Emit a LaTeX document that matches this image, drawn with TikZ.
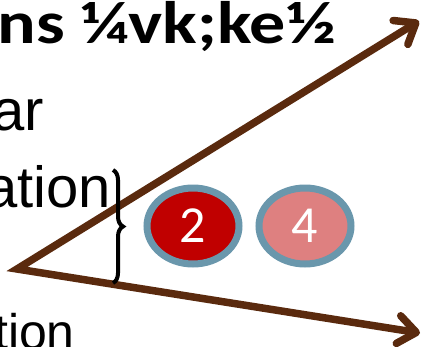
\documentclass[tikz,border=0pt]{standalone}
\usepackage{fontspec}
\setmainfont{Liberation Sans}
\newfontfamily\calibri{Carlito}
\newfontfamily\widebold[FakeStretch=1.2]{Carlito Bold}
\usetikzlibrary{arrows.meta,positioning,shapes.geometric,decorations.pathreplacing}
\definecolor{axisbrown}{RGB}{90,42,14}
\definecolor{ringblue}{RGB}{106,151,172}
\definecolor{darkred}{RGB}{192,0,0}
\definecolor{palered}{RGB}{222,128,128}
\tikzset{
  barb/.tip={Straight Barb[round,length=18pt,width=28pt]},
  axis/.style={draw=axisbrown,line width=7.5pt,line join=miter,barb-barb},
  pill/.style={
    ellipse,draw=ringblue,line width=7pt,inner sep=0pt,
    minimum width=92pt,minimum height=76pt,text=white,
    font=\calibri\fontsize{52}{52}\selectfont
  },
  hot/.style={pill,fill=darkred},
  warm/.style={pill,fill=palered},
  slide/.style={inner sep=0pt,anchor=base east,font=\fontsize{58}{60}\selectfont},
  heading/.style={slide,font=\widebold\fontsize{60}{62}\selectfont},
  bracket/.style={draw=black,line width=4pt,decorate,decoration={brace,amplitude=10pt}}
}
\begin{document}
\begin{tikzpicture}[x=1pt,y=-1pt,node distance=13pt]
  \useasboundingbox (0,0) rectangle (423,346);

  % text cut at the left edge
  \node[heading] (title) at (336,43) {ns ¼vk;ke½};
  \node[slide] (line1) at (44,130) {ar};
  \node[slide] (line2) at (111,207) {ation};
  \node[slide,font=\fontsize{50}{52}\selectfont] (line3) at (75,349) {tion};

  % the angle
  \coordinate (origin) at (17,269);
  \coordinate (upper) at (419,21);
  \coordinate (lower) at (420,333);
  \draw[axis] (upper) -- (origin) -- (lower);

  \coordinate (btop) at (113,170);
  \coordinate (bbot) at (113,283);
  \draw[bracket] (btop) -- (bbot);

  \node[hot] (two) at (193,226) {2};
  \node[warm,right=of two] (four) {4};
\end{tikzpicture}
\end{document}
